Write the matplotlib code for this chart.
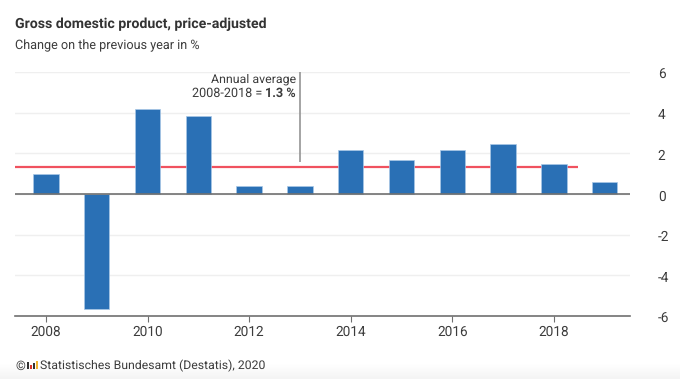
import matplotlib
matplotlib.use('Agg')
import matplotlib.pyplot as plt
from matplotlib.patches import Rectangle
from matplotlib.transforms import ScaledTranslation
import numpy as np

years = [2008, 2009, 2010, 2011, 2012, 2013, 2014, 2015, 2016, 2017, 2018, 2019]
growth = [0.98, -5.66, 4.19, 3.85, 0.4, 0.4, 2.17, 1.67, 2.17, 2.47, 1.47, 0.6]
average = 1.35
average_years = [2007.39, 2018.48]
y_ticks = [-6, -4, -2, 0, 2, 4, 6]
x_ticks = [2008, 2010, 2012, 2014, 2016, 2018]

W, H = 680, 379
text_col = '#3c3c3c'
plt.rcParams['font.family'] = ['Roboto', 'DejaVu Sans']
plt.rcParams['text.hinting'] = 'no_hinting'

fig = plt.figure(figsize=(W / 100, H / 100), dpi=100)
ax = fig.add_axes([15 / W, 1 - 316 / H, 615 / W, 244 / H])

# faint grey fade along the bottom edge
bg = fig.add_axes([0, 0, 1, 16 / H], zorder=-1)
bg.imshow(np.linspace(1, 0.955, 32).reshape(-1, 1), cmap='gray', vmin=0, vmax=1, aspect='auto')
bg.axis('off')

ax.set_xlim(2007.39, 2019.5)
ax.set_ylim(-6, 6)
ax.patch.set_alpha(0)

ax.grid(axis='y', color='#efefef', lw=1)
ax.set_axisbelow(True)
ax.plot(average_years, [average, average], color='#f0525f', lw=1.6, zorder=2, solid_capstyle='butt')
ax.bar(years, growth, width=0.5, color='#2a70b5', edgecolor='#a9c8e6', lw=0.5, zorder=3)
ax.axhline(0, color='#707070', lw=1.2, zorder=4)

for s in ['top', 'left', 'right']:
    ax.spines[s].set_visible(False)
ax.spines['bottom'].set_color('#707070')
ax.spines['bottom'].set_linewidth(1.2)

ax.set_xticks(x_ticks)
ax.set_yticks(y_ticks)
ax.set_yticklabels([str(abs(v)) if v >= 0 else '-' + str(abs(v)) for v in y_ticks])
ax.yaxis.tick_right()
ax.tick_params(axis='y', length=0, pad=20, labelsize=9.8, labelcolor=text_col)
ax.tick_params(axis='x', length=4, width=0.8, color='#707070', pad=3, labelsize=9.8, labelcolor=text_col)

# nudge y labels down a little
for lab in ax.get_yticklabels():
    lab.set_transform(lab.get_transform() + ScaledTranslation(0, -1.5 / 100, fig.dpi_scale_trans))

# annotation with leader line
ax.plot([2013, 2013], [1.55, 6], color='#8c8c8c', lw=1.1, zorder=5, solid_capstyle='butt')
fig.text(296 / W, 1 - 79 / H, 'Annual average', ha='right', va='center', fontsize=8.9, color=text_col)
bold = fig.text(296 / W, 1 - 93 / H, '1.3 %', ha='right', va='center', fontsize=9.1, fontweight='bold', color=text_col)
left_edge = bold.get_window_extent(fig.canvas.get_renderer()).x0
fig.text((left_edge - 3) / W, 1 - 93 / H, '2008-2018 =', ha='right', va='center', fontsize=9.1, color=text_col)

fig.text(15 / W, 1 - 24 / H, 'Gross domestic product, price-adjusted', fontsize=10.2, fontweight='bold',
         va='center', color='#333333')
fig.text(15 / W, 1 - 46 / H, 'Change on the previous year in %', fontsize=9.05, va='center', color=text_col)

# copyright line with tiny logo
fig.text(15 / W, 1 - 366 / H, '©', fontsize=9, va='center', color=text_col)
for px, py, h, col in [(27, 369, 7, '#333333'), (30, 369, 4, '#d9352c'), (33, 369, 6, '#333333'), (35.5, 369, 8, '#f2b632')]:
    fig.add_artist(Rectangle((px / W, 1 - py / H), 2 / W, h / H, transform=fig.transFigure, color=col, lw=0))
fig.text(40 / W, 1 - 366 / H, 'Statistisches Bundesamt (Destatis), 2020', fontsize=8.85, va='center', color=text_col)

fig.savefig('out.png', dpi=100)
